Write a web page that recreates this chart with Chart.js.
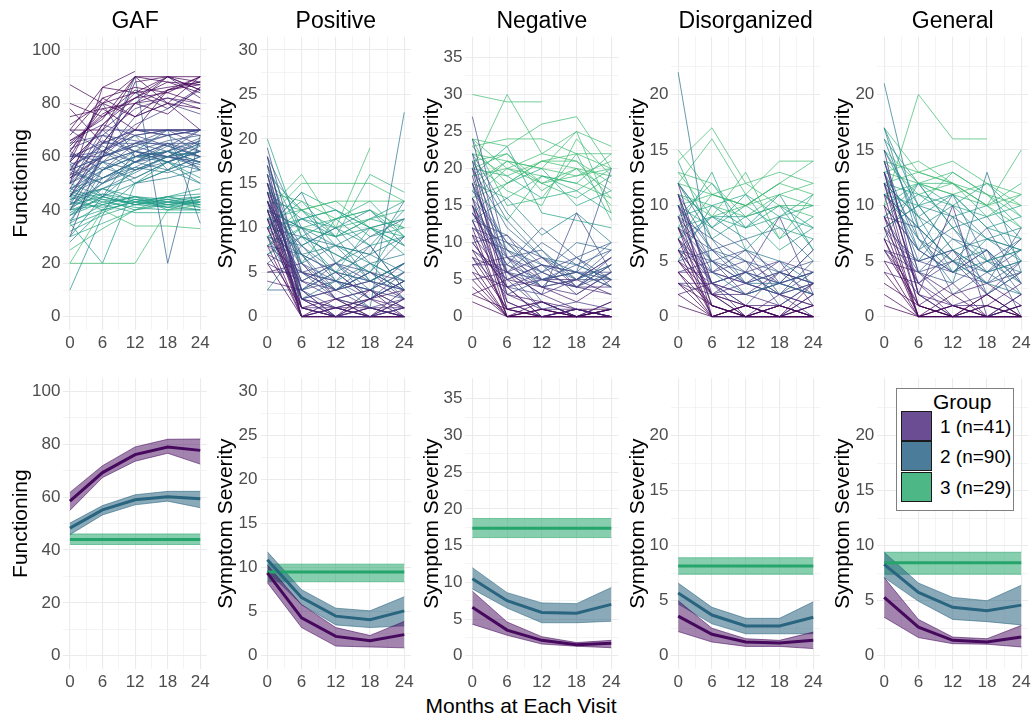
<!DOCTYPE html>
<html>
<head>
<meta charset="utf-8">
<title>Trajectories by group</title>
<script src="https://cdn.jsdelivr.net/npm/chart.js@4.4.1/dist/chart.umd.min.js"></script>
<style>
html, body { margin: 0; padding: 0; background: #fff; overflow: hidden; }
body { width: 1034px; height: 717px; position: relative; font-family: 'Liberation Sans', Arial, sans-serif; }
canvas { position: absolute; }
#xlab { position: absolute; left: 421px; width: 200px; top: 694px; line-height: 24px; text-align: center; font-size: 21px; color: #000; white-space: nowrap; }
#legend { position: absolute; left: 896px; top: 388px; width: 116px; height: 121px; border: 1px solid #808080; background: #fff; z-index: 5; }
#legend .ltitle { position: absolute; left: 36px; top: 1px; font-size: 21px; line-height: 24px; color: #000; }
#legend .key { position: absolute; left: 4px; width: 29px; height: 28px; border: 1.5px solid #1a1a1a; }
#legend .lab { position: absolute; left: 43px; font-size: 19px; line-height: 22px; color: #000; white-space: nowrap; }
</style>
</head>
<body>
<div id="xlab">Months at Each Visit</div>
<div id="legend"></div>
<script>
// visit months
const months = [0, 6, 12, 18, 24];
const groupLabels = ['1 (n=41)', '2 (n=90)', '3 (n=29)'];

// individual trajectories (top row), one row per subject, null = missed visit
const gafSubjects = [
  [60, 80, 90, 88, 87], [55, 72, 82, 90, 85], [50, 86, 92, null, null], [87, 80, 75, 80, 78],
  [70, 70, 90, 80, 90], [62, 78, 80, 85, 88], [45, 65, 80, 90, 82], [58, 82, 75, 85, 87],
  [65, 75, 85, 80, 70], [48, 68, 78, 82, 80], [75, 78, 70, 85, 90], [52, 60, 88, 90, 85],
  [68, 82, 86, 84, 80], [55, 60, 90, 20, 68], [30, 62, 72, 78, 85], [78, 65, 80, 76, 86],
  [72, 80, 84, 86, 88], [64, 76, 82, 84, 90], [58, 70, 80, 82, 78], [70, 86, 84, 90, 88],
  [53, 72, 84, 78, 86], [66, 74, 90, 90, 90], [80, 75, 82, 88, 84], [40, 60, 75, 80, 76],
  [55, 60, 65, 68, 70], [50, 58, 62, 60, 65], [45, 55, 60, 62, 58], [60, 62, 58, 65, 62],
  [52, 65, 70, 68, 70], [40, 50, 55, 60, 62], [35, 55, 60, 58, 55], [58, 70, 60, 65, 60],
  [62, 55, 65, 70, 68], [48, 52, 58, 55, 60], [30, 45, 55, 60, 65], [42, 60, 65, 62, 70],
  [65, 68, 62, 60, 58], [55, 50, 60, 65, 55], [38, 48, 52, 58, 50], [60, 65, 70, 70, 70],
  [50, 62, 55, 58, 62], [45, 58, 68, 55, 60], [28, 40, 50, 55, 65], [10, 38, 60, 62, 58],
  [35, 20, 50, 58, 52], [57, 45, 62, 70, 35], [62, 80, 60, 62, 55],
  [50, 70, 70, 70, 70], [60, 60, 70, 70, 70], [45, 62, 68, 70, 70], [55, 65, 65, 65, 65],
  [52, 58, 62, 66, 68], [48, 55, 60, 60, 62], [58, 52, 58, 62, 66], [42, 50, 58, 64, 60],
  [40, 55, 62, 58, 64], [63, 68, 66, 64, 60], [56, 64, 58, 60, 57], [46, 52, 56, 54, 58],
  [53, 60, 64, 68, 62], [61, 58, 55, 60, 66], [44, 48, 54, 60, 56], [66, 72, 68, 70, 64],
  [38, 45, 50, 55, 50], [50, 56, 52, 58, 62], [57, 62, 68, 64, 70], [43, 58, 50, 52, 55],
  [70, 62, 70, 68, 70], [36, 52, 58, 62, 60], [54, 50, 56, 62, 67], [47, 60, 64, 60, 58],
  [59, 66, 62, 58, 62],
  [42, 45, 42, 43, 43], [40, 42, 45, 42, 44], [45, 40, 43, 45, 42], [38, 43, 41, 40, 40],
  [44, 46, 42, 44, 45], [20, 20, 20, 40, 42], [20, 40, 34, 34, 33], [50, 45, 42, 41, 40],
  [35, 42, 45, 43, 41], [48, 44, 40, 43, 45], [32, 38, 42, 45, 48], [42, 48, 45, 40, 44],
  [46, 42, 39, 39, 39], [40, 44, 43, 42, 43], [43, 41, 44, 43, 42], [47, 43, 45, 44, 41],
  [36, 40, 43, 41, 43], [41, 46, 44, 42, 40], [45, 48, 43, 45, 46], [39, 45, 42, 44, 42],
  [30, 35, 40, 42, 44], [34, 39, 44, 41, 45], [25, 33, 40, 45, 43]
];
const posSubjects = [
  [15, 2, 0, 1, 0], [12, 0, 1, 0, 2], [18, 3, 0, 0, 1], [10, 1, 2, 0, 0], [14, 0, 0, 1, 0],
  [16, 2, 3, 1, 2], [8, 0, 1, 2, 3], [13, 4, 2, 0, 1], [11, 1, 0, 3, 0], [19, 5, 2, 1, 0],
  [9, 2, 4, 1, 23], [6, 0, 0, 0, 0], [15, 3, 1, 2, 4], [17, 1, 0, 0, 0], [13, 2, 1, 0, 0],
  [11, 0, 0, 0, 1], [16, 1, 1, 0, 0], [14, 3, 0, 1, 1], [9, 0, 2, 1, 0], [12, 1, 0, 2, 0],
  [18, 2, 1, 0, 2], [7, 1, 0, 0, 0], [15, 0, 1, 1, 0], [10, 2, 0, 0, 3], [13, 0, 0, 2, 1],
  [14, 8, 5, 4, 6], [12, 10, 6, 3, 5], [10, 6, 4, 8, 3], [17, 9, 7, 5, 11], [8, 5, 6, 4, 3],
  [16, 12, 8, 6, 4], [11, 7, 3, 5, 9], [13, 4, 6, 2, 4], [9, 8, 10, 6, 7], [15, 6, 11, 12, 9],
  [7, 5, 3, 4, 2], [12, 3, 5, 7, 13], [18, 10, 4, 6, 2], [5, 6, 2, 3, 1], [14, 11, 9, 4, 6],
  [10, 14, 6, 8, 3], [4, 3, 5, 2, 4], [20, 9, 5, 10, 8], [13, 6, 3, 4, 3], [11, 5, 4, 3, 5],
  [15, 7, 5, 2, 4], [9, 4, 6, 5, 3], [12, 8, 4, 3, 2], [16, 5, 3, 6, 4], [8, 7, 5, 4, 6],
  [14, 3, 4, 2, 5], [10, 9, 7, 5, 3], [6, 4, 3, 5, 4], [17, 6, 8, 4, 6], [12, 2, 3, 5, 2],
  [11, 10, 8, 7, 5], [5, 5, 4, 3, 6], [13, 7, 2, 3, 1],
  [11, 15, 15, 15, 13], [9, 12, 13, 13, 13], [12, 16, 10, 19, null], [8, 10, 9, 16, 14],
  [10, 11, 12, 10, 9], [7, 9, 11, 8, 12], [3, 8, 10, 12, 8], [13, 12, 9, 11, 10],
  [6, 9, 8, 7, 9], [3, 3, 6, 9, 11], [10, 14, 12, 10, 7], [9, 7, 8, 10, 11],
  [14, 13, 11, 12, 10], [11, 12, 10, 11, 12], [8, 11, 12, 9, 10], [12, 10, 11, 13, 9],
  [10, 13, 9, 10, 8], [7, 10, 9, 11, 13], [15, 12, 13, 10, 11], [9, 11, 10, 8, 9]
];
const negSubjects = [
  [12, 0, 1, 0, 0], [20, 2, 0, 1, 0], [8, 1, 0, 0, 1], [15, 3, 2, 0, 0], [22, 5, 1, 2, 1],
  [6, 0, 0, 1, 0], [10, 4, 0, 0, 2], [18, 1, 2, 0, 0], [4, 0, 1, 0, 1], [14, 6, 3, 1, 0],
  [27, 8, 2, 0, 1], [2, 0, 0, 0, 0], [16, 1, 0, 0, 0], [11, 0, 1, 0, 0], [21, 3, 1, 1, 0],
  [7, 0, 0, 1, 1], [13, 2, 0, 0, 0], [9, 1, 2, 0, 1], [19, 4, 0, 1, 0], [5, 0, 0, 0, 1],
  [24, 6, 1, 0, 2], [3, 1, 0, 0, 0], [15, 0, 2, 1, 0],
  [12, 8, 6, 4, 7], [16, 10, 5, 6, 5], [9, 6, 4, 5, 8], [20, 12, 8, 6, 4], [11, 5, 7, 3, 6],
  [14, 9, 4, 8, 10], [7, 8, 5, 4, 3], [18, 6, 10, 7, 5], [10, 4, 3, 14, 6], [13, 11, 7, 5, 9],
  [5, 6, 8, 4, 4], [22, 14, 9, 5, 7], [8, 3, 5, 6, 20], [15, 7, 12, 8, 4], [3, 5, 4, 2, 5],
  [17, 10, 6, 10, 9], [14, 7, 5, 6, 6], [11, 9, 6, 4, 8], [18, 8, 4, 5, 7], [9, 5, 7, 6, 4],
  [12, 10, 8, 5, 5], [16, 6, 5, 7, 9], [7, 7, 4, 3, 6], [13, 4, 6, 8, 5], [10, 11, 5, 4, 7],
  [20, 9, 7, 6, 10], [6, 4, 5, 5, 3], [15, 8, 9, 4, 6], [8, 6, 3, 5, 8], [21, 13, 8, 7, 5],
  [30, 29, 29, null, null], [20, 30, 22, 25, 23], [24, 23, 26, 27, 20], [23, 24, 24, 22, 22],
  [18, 21, 20, 25, 14], [22, 19, 21, 21, 16], [16, 20, 18, 19, 20], [21, 17, 15, 24, 19],
  [19, 23, 14, 13, 12], [24, 15, 16, 22, 13], [14, 18, 20, 15, 17], [17, 13, 19, 18, 22],
  [13, 16, 11, 14, 10], [20, 22, 17, 20, 15], [22, 21, 20, 19, 21], [19, 20, 22, 21, 18],
  [23, 18, 21, 20, 19], [18, 16, 19, 17, 20], [21, 22, 18, 20, 17], [16, 18, 21, 22, 20],
  [24, 20, 19, 18, 16], [20, 19, 16, 17, 14], [17, 21, 18, 16, 19]
];
const disSubjects = [
  [8, 0, 1, 0, 0], [5, 1, 0, 1, 0], [11, 0, 0, 2, 1], [3, 0, 1, 0, 0], [7, 2, 0, 0, 1],
  [1, 0, 0, 1, 0], [9, 3, 1, 0, 2], [4, 1, 0, 0, 0], [12, 2, 0, 1, 0], [2, 0, 1, 0, 3],
  [10, 1, 0, 0, 0], [6, 0, 1, 0, 1], [4, 0, 0, 0, 0], [8, 2, 1, 1, 0], [11, 3, 0, 0, 1],
  [3, 1, 0, 0, 0], [7, 0, 0, 1, 0], [5, 2, 1, 0, 0], [9, 1, 0, 0, 2],
  [22, 4, 2, 3, 2], [10, 5, 3, 2, 4], [6, 4, 5, 3, 2], [8, 6, 3, 4, 3], [11, 3, 4, 2, 5],
  [4, 5, 2, 3, 6], [9, 7, 5, 1, 3], [3, 2, 4, 9, 2], [7, 3, 1, 4, 7], [12, 8, 6, 5, 3],
  [5, 6, 7, 3, 4], [6, 2, 3, 5, 1], [10, 4, 6, 2, 0], [2, 3, 2, 4, 3], [9, 5, 4, 3, 4],
  [7, 4, 3, 2, 3], [5, 3, 4, 3, 2], [11, 6, 4, 2, 3], [6, 5, 3, 4, 5], [8, 3, 2, 3, 4],
  [4, 4, 3, 2, 1], [10, 6, 5, 4, 3], [3, 3, 4, 5, 4], [12, 7, 3, 3, 6], [6, 2, 2, 1, 3],
  [8, 5, 6, 4, 2],
  [15, 11, 10, 12, 14], [14, 17, 12, 13, 12], [12, 16, 11, 14, 14], [13, 9, 13, 7, 11],
  [11, 10, 9, 11, 10], [9, 12, 8, 10, 6], [7, 11, 10, 12, null], [10, 8, 11, 7, 9],
  [6, 9, 7, 8, 5], [8, 13, 6, 9, 10], [14, 7, 9, 6, 8], [5, 10, 8, 11, 6],
  [12, 11, 10, 11, 12], [11, 9, 10, 12, 11], [9, 10, 11, 9, 8], [13, 12, 9, 10, 10],
  [10, 11, 12, 10, 9], [8, 9, 8, 9, 11], [12, 8, 10, 8, 7], [7, 9, 9, 10, 8]
];
const genSubjects = [
  [10, 0, 1, 0, 0], [7, 1, 0, 2, 0], [13, 2, 0, 0, 1], [4, 0, 2, 0, 0], [9, 3, 0, 1, 3],
  [2, 0, 0, 0, 1], [12, 1, 3, 0, 0], [6, 2, 10, 0, 2], [14, 4, 1, 2, 0], [1, 0, 0, 1, 0],
  [11, 1, 0, 0, 0], [8, 0, 1, 0, 0], [5, 0, 0, 1, 0], [13, 2, 1, 0, 1], [3, 1, 0, 0, 0],
  [9, 0, 0, 0, 2], [12, 3, 1, 1, 0], [6, 1, 0, 2, 0], [15, 2, 0, 0, 1], [7, 0, 1, 0, 0],
  [21, 8, 5, 3, 2], [17, 10, 6, 4, 5], [12, 6, 11, 5, 3], [15, 9, 4, 7, 6], [8, 5, 6, 3, 8],
  [11, 7, 3, 13, 4], [14, 4, 7, 6, 2], [9, 8, 2, 4, 7], [16, 12, 8, 5, 6], [6, 4, 5, 8, 3],
  [13, 5, 9, 2, 4], [10, 6, 4, 6, 0], [4, 3, 6, 2, 5], [17, 13, 12, 10, 8], [13, 7, 5, 4, 5],
  [10, 6, 4, 3, 4], [16, 8, 5, 6, 3], [7, 5, 6, 4, 6], [12, 9, 7, 5, 4], [9, 4, 3, 5, 7],
  [14, 6, 8, 4, 2], [11, 8, 5, 3, 5], [6, 5, 4, 6, 3], [15, 10, 6, 7, 5], [8, 3, 5, 2, 4],
  [17, 7, 4, 5, 6], [5, 4, 2, 3, 1],
  [10, 20, 16, 16, null], [14, 13, 14, 12, 11], [15, 12, 13, 11, 10], [13, 14, 12, 10, 15],
  [11, 12, 12, 9, 11], [9, 11, 10, 12, 9], [12, 9, 11, 8, 7], [8, 10, 9, 7, 8],
  [7, 12, 8, 9, 5], [11, 8, 10, 7, 6], [13, 12, 11, 12, 10], [12, 13, 12, 10, 11],
  [14, 11, 12, 11, 9], [10, 12, 11, 10, 12], [11, 10, 13, 11, 8], [9, 12, 10, 9, 10],
  [12, 11, 9, 10, 7], [8, 10, 11, 8, 9]
];

// group mean trajectories with confidence band (bottom row), groups 1..3
const gafMean  = [[58.5, 69.3, 76.1, 79.0, 77.7], [48.3, 55.2, 59.0, 60.2, 59.4], [44.0, 44.0, 44.0, 44.0, 44.0]];
const gafLower = [[55.0, 67.4, 73.6, 76.6, 72.5], [45.8, 53.3, 57.1, 58.5, 56.0], [42.1, 42.1, 42.1, 42.1, 42.1]];
const gafUpper = [[61.8, 71.9, 79.0, 81.9, 82.0], [50.2, 56.8, 60.9, 62.2, 62.2], [46.1, 46.1, 46.1, 46.1, 46.1]];

const posMean  = [[9.4, 4.3, 2.2, 1.7, 2.4], [10.9, 6.6, 4.5, 4.1, 5.1], [9.5, 9.5, 9.5, 9.5, 9.5]];
const posLower = [[8.3, 3.2, 1.1, 1.0, 0.9], [9.6, 5.8, 3.5, 3.2, 3.4], [8.4, 8.4, 8.4, 8.4, 8.4]];
const posUpper = [[10.3, 5.8, 3.2, 2.3, 3.9], [11.8, 7.5, 5.4, 5.1, 6.7], [10.4, 10.4, 10.4, 10.4, 10.4]];

const negMean  = [[6.6, 3.5, 2.1, 1.5, 1.7], [10.5, 7.5, 5.9, 5.8, 7.0], [17.35, 17.35, 17.35, 17.35, 17.35]];
const negLower = [[4.3, 2.8, 1.6, 1.3, 1.1], [9.1, 6.5, 4.5, 4.5, 4.7], [16.1, 16.1, 16.1, 16.1, 16.1]];
const negUpper = [[8.8, 4.6, 2.6, 1.8, 2.1], [12.0, 8.6, 7.2, 7.1, 9.3], [18.7, 18.7, 18.7, 18.7, 18.7]];

const disMean  = [[3.6, 1.95, 1.25, 1.15, 1.4], [5.7, 3.7, 2.7, 2.7, 3.5], [8.15, 8.15, 8.15, 8.15, 8.15]];
const disLower = [[2.2, 1.25, 0.85, 0.85, 0.65], [4.7, 2.9, 2.0, 2.0, 2.0], [7.4, 7.4, 7.4, 7.4, 7.4]];
const disUpper = [[5.0, 2.5, 1.55, 1.4, 2.15], [6.6, 4.4, 3.4, 3.4, 4.9], [8.9, 8.9, 8.9, 8.9, 8.9]];

const genMean  = [[5.3, 2.6, 1.4, 1.25, 1.7], [8.3, 5.75, 4.4, 4.1, 4.6], [8.45, 8.45, 8.45, 8.45, 8.45]];
const genLower = [[3.5, 1.65, 1.1, 1.05, 0.8], [7.1, 4.95, 3.3, 3.1, 2.8], [7.4, 7.4, 7.4, 7.4, 7.4]];
const genUpper = [[7.1, 3.3, 1.7, 1.55, 2.75], [9.4, 6.6, 5.3, 5.0, 6.4], [9.4, 9.4, 9.4, 9.4, 9.4]];

// ---- styling / layout ----
const FONT = "'Liberation Sans', Arial, sans-serif";
Chart.defaults.font.family = FONT;

const groupLine = ['#46095e', '#2a6580', '#25a56c'];
const groupFill = ['rgba(70,9,94,0.5)', 'rgba(42,101,128,0.55)', 'rgba(37,165,108,0.55)'];
const groupEdge = ['rgba(70,9,94,0.7)', 'rgba(42,101,128,0.7)', 'rgba(37,165,108,0.7)'];
const keyColors = ['#6a4d92', '#4b7d9a', '#4db886'];

const viridisStops = ['#440154', '#482475', '#414487', '#355f8d', '#2a788e', '#21918c', '#22a884', '#44bf70', '#7ad151'];
function hexToRgb(h) {
  return [parseInt(h.slice(1, 3), 16), parseInt(h.slice(3, 5), 16), parseInt(h.slice(5, 7), 16)];
}
function viridis(t, a) {
  t = Math.max(0, Math.min(1, t));
  const p = t * (viridisStops.length - 1);
  const i = Math.min(Math.floor(p), viridisStops.length - 2);
  const f = p - i;
  const c0 = hexToRgb(viridisStops[i]), c1 = hexToRgb(viridisStops[i + 1]);
  const c = c0.map((v, k) => Math.round(v + (c1[k] - v) * f));
  return 'rgba(' + c[0] + ',' + c[1] + ',' + c[2] + ',' + a + ')';
}

// columns: plot-area left/right, canvas left, centre of y title
const cols = [
  {L: 63.4, R: 209.6, left: 0, titleCX: 21},
  {L: 260.5, R: 413.7, left: 212, titleCX: 226},
  {L: 465.4, R: 621.1, left: 417, titleCX: 432},
  {L: 671.4, R: 822.9, left: 623, titleCX: 638},
  {L: 877.3, R: 1031.3, left: 828, titleCX: 843}
];
// rows: plot-area top/bottom
const rows = [
  {T: 36.7, B: 330, top: 0},
  {T: 375.7, B: 669, top: 365}
];

const panels = [
  {title: 'GAF', yTitle: 'Functioning', subjects: gafSubjects, mean: gafMean, lower: gafLower, upper: gafUpper,
   yMin: -5, yMax: 105, yLimit: 100, major: 20, minor: 10, toneLo: 78, toneHi: 34},
  {title: 'Positive', yTitle: 'Symptom Severity', subjects: posSubjects, mean: posMean, lower: posLower, upper: posUpper,
   yMin: -1.5, yMax: 31.5, yLimit: 30, major: 5, minor: 2.5, toneLo: 2, toneHi: 12},
  {title: 'Negative', yTitle: 'Symptom Severity', subjects: negSubjects, mean: negMean, lower: negLower, upper: negUpper,
   yMin: -1.8, yMax: 37.8, yLimit: 36, major: 5, minor: 2.5, toneLo: 2, toneHi: 19},
  {title: 'Disorganized', yTitle: 'Symptom Severity', subjects: disSubjects, mean: disMean, lower: disLower, upper: disUpper,
   yMin: -1.2, yMax: 25.2, yLimit: 24, major: 5, minor: 2.5, toneLo: 1.5, toneHi: 10.5},
  {title: 'General', yTitle: 'Symptom Severity', subjects: genSubjects, mean: genMean, lower: genLower, upper: genUpper,
   yMin: -1.2, yMax: 25.2, yLimit: 24, major: 5, minor: 2.5, toneLo: 2, toneHi: 11.5}
];

function toPoints(vals) {
  return months.map((m, i) => ({x: m, y: vals[i]}));
}

function spaghettiSets(p) {
  return p.subjects.map(s => {
    const v = s.filter(x => x !== null);
    const mean = v.reduce((a, b) => a + b, 0) / v.length;
    let t = (mean - p.toneLo) / (p.toneHi - p.toneLo);
    t = Math.max(0, Math.min(1, t));
    return {
      data: toPoints(s),
      borderColor: viridis(t * 0.86, 0.72),
      borderWidth: 1,
      pointRadius: 0,
      tension: 0,
      spanGaps: false,
      fill: false
    };
  });
}

function groupSets(p) {
  const lines = [], bands = [];
  for (let g = 0; g < 3; g++) {
    lines.push({data: toPoints(p.mean[g]), borderColor: groupLine[g], borderWidth: 3, pointRadius: 0, fill: false, tension: 0});
  }
  for (let g = 0; g < 3; g++) {
    bands.push({data: toPoints(p.upper[g]), borderColor: groupEdge[g], borderWidth: 0.8, pointRadius: 0, fill: false, tension: 0});
    bands.push({data: toPoints(p.lower[g]), borderColor: groupEdge[g], borderWidth: 0.8, pointRadius: 0, fill: '-1',
                backgroundColor: groupFill[g], tension: 0});
  }
  // first datasets are drawn on top
  return lines.concat(bands);
}

function makePanel(ci, ri, p) {
  const c = cols[ci], r = rows[ri];
  const cv = document.createElement('canvas');
  const width = Math.round(c.R + 3 - c.left);
  const height = Math.round(r.B + 26 - r.top);
  cv.width = width; cv.height = height;
  cv.style.left = c.left + 'px';
  cv.style.top = r.top + 'px';
  document.body.appendChild(cv);

  const yAxisW = c.L - c.left;
  const yTicks = [];
  for (let v = 0; v <= p.yLimit + 1e-9; v += p.minor) yTicks.push(+v.toFixed(2));
  const xTicks = [0, 3, 6, 9, 12, 15, 18, 21, 24];
  const isTop = ri === 0;
  const titleLine = 23 * 1.2;

  new Chart(cv, {
    type: 'line',
    data: {datasets: isTop ? spaghettiSets(p) : groupSets(p)},
    options: {
      responsive: false,
      animation: false,
      events: [],
      layout: {padding: {left: 0, top: isTop ? 0 : r.T - r.top, right: c.left + width - c.R, bottom: 0}},
      plugins: {
        legend: {display: false},
        tooltip: {enabled: false},
        title: {
          display: isTop,
          text: p.title,
          fullSize: false,
          color: '#000',
          font: {size: 23, weight: 'normal', family: FONT},
          padding: {top: 7.9, bottom: r.T - 7.9 - titleLine}
        }
      },
      scales: {
        x: {
          type: 'linear',
          min: -1.2, max: 25.2,
          afterBuildTicks: s => { s.ticks = xTicks.map(v => ({value: v})); },
          afterFit: s => { s.height = 26; },
          border: {display: false},
          grid: {
            drawTicks: false,
            color: '#ebebeb',
            lineWidth: ctx => (ctx.tick && ctx.tick.value % 6 === 0) ? 1.1 : 0.55
          },
          ticks: {
            padding: 3,
            color: '#4d4d4d',
            font: {size: 17},
            maxRotation: 0,
            autoSkip: false,
            callback: v => (v % 6 === 0 ? String(v) : '')
          }
        },
        y: {
          type: 'linear',
          min: p.yMin, max: p.yMax,
          afterBuildTicks: s => { s.ticks = yTicks.map(v => ({value: v})); },
          afterFit: s => { s.width = yAxisW; },
          border: {display: false},
          grid: {
            drawTicks: false,
            color: '#ebebeb',
            lineWidth: ctx => (ctx.tick && Math.abs(ctx.tick.value % p.major) < 1e-6) ? 1.1 : 0.55
          },
          ticks: {
            padding: 3,
            color: '#4d4d4d',
            font: {size: 17},
            autoSkip: false,
            callback: v => (Math.abs(v % p.major) < 1e-6 ? String(v) : '')
          },
          title: {
            display: true,
            text: p.yTitle,
            color: '#000',
            font: {size: 21, family: FONT},
            padding: {top: c.titleCX - c.left - 21 * 1.2 / 2, bottom: 0}
          }
        }
      }
    }
  });
}

panels.forEach((p, i) => {
  makePanel(i, 0, p);
  makePanel(i, 1, p);
});

// legend for the group panels
const legend = document.getElementById('legend');
const lt = document.createElement('div');
lt.className = 'ltitle';
lt.textContent = 'Group';
legend.appendChild(lt);
groupLabels.forEach((lab, g) => {
  const k = document.createElement('div');
  k.className = 'key';
  k.style.top = (22 + g * 30.3) + 'px';
  k.style.background = keyColors[g];
  legend.appendChild(k);
  const t = document.createElement('div');
  t.className = 'lab';
  t.style.top = (27 + g * 30.3) + 'px';
  t.textContent = lab;
  legend.appendChild(t);
});
</script>
</body>
</html>
